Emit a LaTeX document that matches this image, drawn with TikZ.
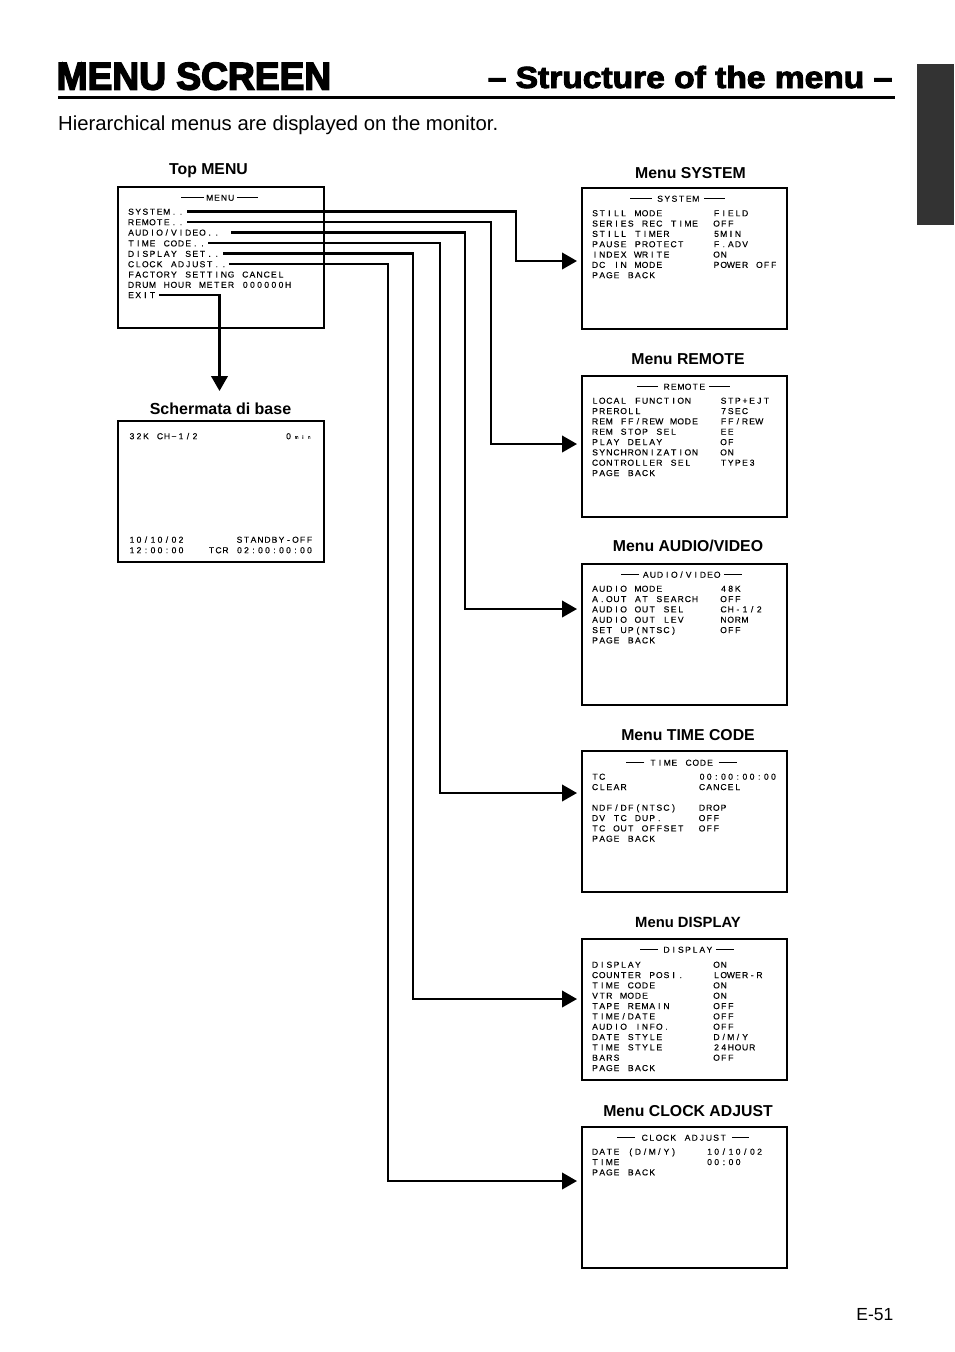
\documentclass[tikz,border=0pt]{standalone}
\usepackage{fontspec}
\setmainfont{Liberation Sans}
\newfontfamily\heavyfont[FakeBold=3.0]{Liberation Sans Bold}
\newfontfamily\heavierfont[FakeBold=4]{Liberation Sans Bold}
\newfontfamily\smallfont[FakeBold=0.15]{Liberation Sans}
\usetikzlibrary{arrows.meta}
\ExplSyntaxOn
\dim_new:N \l_mono_step_dim
\dim_set:Nn \l_mono_step_dim {7.14pt}
\NewDocumentCommand{\mono}{m}{
  \rule{0pt}{6.5pt}
  \str_map_inline:nn {#1} { \makebox[\l_mono_step_dim][c]{##1} }
}
\NewDocumentCommand{\monostep}{m}{ \dim_set:Nn \l_mono_step_dim {#1} }
\ExplSyntaxOff
\tikzset{
  screen/.style={draw=black,line width=1.7pt,fill=white,minimum width=205.5pt,minimum height=141pt,inner sep=0pt},
  menutext/.style={inner sep=0pt,outer sep=0pt,align=left,anchor=north west,font=\smallfont\fontsize{8.6}{10.33}\selectfont},
  menuitem/.style={inner sep=0pt,outer sep=0pt,anchor=west,font=\smallfont\fontsize{8.6}{10.33}\selectfont},
  menutitle/.style={inner sep=0pt,outer sep=0pt,anchor=center,font=\smallfont\fontsize{8.6}{10.33}\selectfont},
  titlerule/.style={line width=1pt},
  caption/.style={inner sep=0pt,anchor=base,font=\fontsize{15.8}{18}\selectfont\bfseries},
  link/.style={line width=2.4pt,line cap=butt,-{Triangle[length=15pt,width=16.5pt]}},
}
\begin{document}
\begin{tikzpicture}[x=1pt,y=-1pt]
\useasboundingbox (0,0) rectangle (954,1352);
\fill[white] (0,0) rectangle (954,1352);
\fill[black!80] (917,64) rectangle (954,225);

% heading
\node[inner sep=0pt,anchor=base west] (head1) at (56.5,89.5) {\scalebox{0.965}[1]{\fontsize{38.5}{40}\heavierfont MENU SCREEN}};
\node[inner sep=0pt,anchor=base east] (head2) at (892.5,88) {\scalebox{1.1}[1]{\fontsize{30.5}{34}\heavyfont – Structure of the menu –}};
\draw[line width=3pt] (58,97.5) -- (895,97.5);
\node[inner sep=0pt,anchor=base west,font=\fontsize{20.3}{24}\selectfont] (intro) at (58,130) {Hierarchical menus are displayed on the monitor.};
\node[inner sep=0pt,anchor=base east,font=\fontsize{17.5}{20}\selectfont] (pageno) at (893.5,1320.5) {E-51};

% captions
\node[caption] (captop) at (208.5,174.5) {Top MENU};
\node[caption,font=\fontsize{16}{18}\selectfont\bfseries] (capbase) at (220.5,414) {Schermata di base};
\node[caption] (capsys) at (690.5,178) {Menu SYSTEM};
\node[caption] (caprem) at (688,364) {Menu REMOTE};
\node[caption] (capav) at (688,551) {Menu AUDIO/VIDEO};
\node[caption] (captc) at (688,740) {Menu TIME CODE};
\node[caption,font=\fontsize{14.8}{18}\selectfont\bfseries] (capdisp) at (688,927) {Menu DISPLAY};
\node[caption] (capclock) at (688,1116) {Menu CLOCK ADJUST};

% screens
\node[screen] (top) at (221,257.5) {};
\node[screen] (base) at (221,491.5) {};
\node[screen] (sys) at (684.5,258.5) {};
\node[screen] (rem) at (684.5,446.5) {};
\node[screen] (av) at (684.5,634.5) {};
\node[screen] (tc) at (684.5,821.5) {};
\node[screen] (disp) at (684.5,1009.5) {};
\node[screen] (clock) at (684.5,1197.5) {};

% top menu
\node[menutitle] (ttop) at (220.5,197.5) {\mono{MENU}};
\draw[titlerule] ([xshift=-2pt]ttop.west) -- ++(-23,0);
\draw[titlerule] ([xshift=2pt]ttop.east) -- ++(21,0);
\node[menuitem] (i1) at (127.5,211.5) {\mono{SYSTEM..}};
\node[menuitem] (i2) at (127.5,222) {\mono{REMOTE..}};
\node[menuitem] (i3) at (127.5,232.4) {\mono{AUDIO/VIDEO..}};
\node[menuitem] (i4) at (127.5,243.2) {\mono{TIME CODE..}};
\node[menuitem] (i5) at (127.5,253.6) {\mono{DISPLAY SET..}};
\node[menuitem] (i6) at (127.5,264) {\mono{CLOCK ADJUST..}};
\node[menuitem] (i7) at (127.5,274.3) {\mono{FACTORY SETTING CANCEL}};
\node[menuitem] (i8) at (127.5,284.6) {\mono{DRUM HOUR METER 000000H}};
\node[menuitem] (i9) at (127.5,294.8) {\mono{EXIT}};

% base screen
\node[menuitem] (b1) at (128.5,436) {\monostep{7pt}\mono{32K CH−1/2}};
\node[menuitem] (b2) at (285,436) {\mono{0}};
\node[menuitem,font=\smallfont\fontsize{4.5}{6}\selectfont] (b3) at (293.5,435.5) {\monostep{6.3pt}\mono{min}};
\node[menuitem] (b4) at (128.5,539.5) {\monostep{7pt}\mono{10/10/02}};
\node[menuitem] (b5) at (128.5,550) {\monostep{7pt}\mono{12:00:00}};
\node[menuitem,anchor=east] (b6) at (313,539.5) {\monostep{7pt}\mono{STANDBY-OFF}};
\node[menuitem,anchor=east] (b7) at (313,550) {\monostep{7pt}\mono{TCR 02:00:00:00}};

% SYSTEM
\node[menutitle] (tsys) at (678,198.5) {\mono{SYSTEM}};
\draw[titlerule] ([xshift=-5pt]tsys.west) -- ++(-22,0);
\draw[titlerule] ([xshift=5pt]tsys.east) -- ++(21,0);
\node[menutext] (sysl) at (591.5,209.7) {\mono{STILL MODE}\\\mono{SERIES REC TIME}\\\mono{STILL TIMER}\\\mono{PAUSE PROTECT}\\\mono{INDEX WRITE}\\\mono{DC IN MODE}\\\mono{PAGE BACK}};
\node[menutext] (sysr) at (713,209.7) {\mono{FIELD}\\\mono{OFF}\\\mono{5MIN}\\\mono{F.ADV}\\\mono{ON}\\\mono{POWER OFF}};

% REMOTE
\node[menutitle] (trem) at (684.5,386.5) {\mono{REMOTE}};
\draw[titlerule] ([xshift=-5pt]trem.west) -- ++(-21,0);
\draw[titlerule] ([xshift=3pt]trem.east) -- ++(21,0);
\node[menutext] (reml) at (591.5,397.2) {\mono{LOCAL FUNCTION}\\\mono{PREROLL}\\\mono{REM FF/REW MODE}\\\mono{REM STOP SEL}\\\mono{PLAY DELAY}\\\mono{SYNCHRONIZATION}\\\mono{CONTROLLER SEL}\\\mono{PAGE BACK}};
\node[menutext] (remr) at (720,397.2) {\mono{STP+EJT}\\\mono{7SEC}\\\mono{FF/REW}\\\mono{EE}\\\mono{OF}\\\mono{ON}\\\mono{TYPE3}};

% AUDIO/VIDEO
\node[menutitle] (tav) at (681.5,574.5) {\mono{AUDIO/VIDEO}};
\draw[titlerule] ([xshift=-3pt]tav.west) -- ++(-18,0);
\draw[titlerule] ([xshift=3pt]tav.east) -- ++(18,0);
\node[menutext] (avl) at (591.5,585.2) {\mono{AUDIO MODE}\\\mono{A.OUT AT SEARCH}\\\mono{AUDIO OUT SEL}\\\mono{AUDIO OUT LEV}\\\mono{SET UP(NTSC)}\\\mono{PAGE BACK}};
\node[menutext] (avr) at (720,585.2) {\mono{48K}\\\mono{OFF}\\\mono{CH-1/2}\\\mono{NORM}\\\mono{OFF}};

% TIME CODE
\node[menutitle] (ttc) at (681.5,762.5) {\mono{TIME CODE}};
\draw[titlerule] ([xshift=-5pt]ttc.west) -- ++(-18,0);
\draw[titlerule] ([xshift=5pt]ttc.east) -- ++(18,0);
\node[menutext] (tcl) at (591.5,773.2) {\mono{TC}\\\mono{CLEAR}\\\mono{}\\\mono{NDF/DF(NTSC)}\\\mono{DV TC DUP.}\\\mono{TC OUT OFFSET}\\\mono{PAGE BACK}};
\node[menutext] (tcr) at (698.5,773.2) {\mono{00:00:00:00}\\\mono{CANCEL}\\\mono{}\\\mono{DROP}\\\mono{OFF}\\\mono{OFF}};

% DISPLAY
\node[menutitle] (tdisp) at (688,949.5) {\mono{DISPLAY}};
\draw[titlerule] ([xshift=-5pt]tdisp.west) -- ++(-18,0);
\draw[titlerule] ([xshift=3pt]tdisp.east) -- ++(18,0);
\node[menutext] (displ) at (591.5,961.2) {\mono{DISPLAY}\\\mono{COUNTER POSI.}\\\mono{TIME CODE}\\\mono{VTR MODE}\\\mono{TAPE REMAIN}\\\mono{TIME/DATE}\\\mono{AUDIO INFO.}\\\mono{DATE STYLE}\\\mono{TIME STYLE}\\\mono{BARS}\\\mono{PAGE BACK}};
\node[menutext] (dispr) at (713,961.2) {\mono{ON}\\\mono{LOWER-R}\\\mono{ON}\\\mono{ON}\\\mono{OFF}\\\mono{OFF}\\\mono{OFF}\\\mono{D/M/Y}\\\mono{24HOUR}\\\mono{OFF}};

% CLOCK ADJUST
\node[menutitle] (tclock) at (684,1137.5) {\mono{CLOCK ADJUST}};
\draw[titlerule] ([xshift=-6pt]tclock.west) -- ++(-18,0);
\draw[titlerule] ([xshift=5pt]tclock.east) -- ++(17,0);
\node[menutext] (clockl) at (591.5,1148.2) {\mono{DATE (D/M/Y)}\\\mono{TIME}\\\mono{PAGE BACK}};
\node[menutext] (clockr) at (706,1148.2) {\mono{10/10/02}\\\mono{00:00}};

% connectors
\coordinate (vsys) at (516,261);   \coordinate (esys) at (577,261);
\coordinate (vrem) at (491,444);   \coordinate (erem) at (577,444);
\coordinate (vav) at (465,609);    \coordinate (eav) at (577,609);
\coordinate (vtc) at (440,793);    \coordinate (etc) at (577,793);
\coordinate (vdisp) at (413,999);  \coordinate (edisp) at (577,999);
\coordinate (vclock) at (388,1181);\coordinate (eclock) at (577,1181);
\coordinate (ebase) at (219.5,391);
\draw[link] ([xshift=2.5pt]i1.east) -| (vsys) -- (esys);
\draw[link] ([xshift=2.5pt]i2.east) -| (vrem) -- (erem);
\draw[link] ([xshift=10.7pt]i3.east) -| (vav) -- (eav);
\draw[link] ([xshift=2pt]i4.east) -| (vtc) -- (etc);
\draw[link] ([xshift=2.7pt]i5.east) -| (vdisp) -- (edisp);
\draw[link] ([xshift=1.5pt]i6.east) -| (vclock) -- (eclock);
\draw[link] ([xshift=3pt]i9.east) -| (ebase);
\end{tikzpicture}
\end{document}
